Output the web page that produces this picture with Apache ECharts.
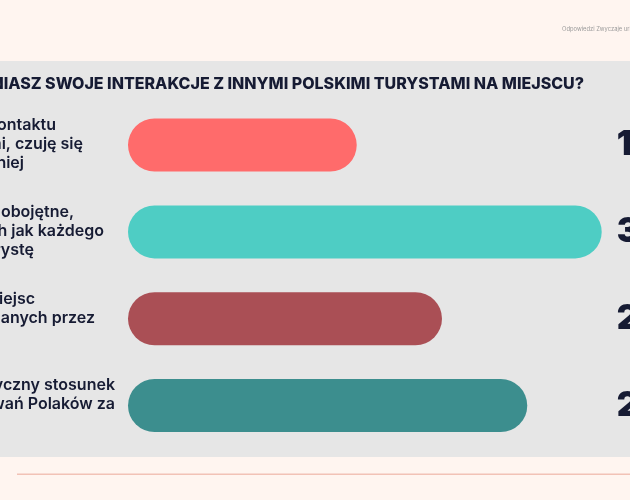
<!DOCTYPE html>
<html>
<head>
<meta charset="utf-8">
<script src="https://cdn.jsdelivr.net/npm/echarts@6/dist/echarts.min.js"></script>
<style>
html,body{margin:0;padding:0;background:#FFF5F0;}
#c{width:630px;height:500px;}
</style>
</head>
<body>
<div id="c"></div>
<script>
// Data
var categories = ['Unikam kontaktu', 'Są mi obojętne', 'Unikam miejsc', 'Krytyczny stosunek'];
var categoryLines = [
  ['Unikam kontaktu', 'z Polakami, czuję się', 'swobodniej'],
  ['Są mi obojętne,', 'traktuję ich jak każdego', 'innego turystę'],
  ['Unikam miejsc', 'często odwiedzanych przez', 'Polaków'],
  ['Mam krytyczny stosunek', 'do zachowań Polaków za', 'granicą']
];
var values = [16.9, 35, 23.2, 29.5];
var barColors = ['#FF6B6B', '#4ECDC4', '#AA4F55', '#3C8E8E'];
var titleText = 'JAK OCENIASZ SWOJE INTERAKCJE Z INNYMI POLSKIMI TURYSTAMI NA MIEJSCU?';
var sourceText = 'Odpowiedzi Zwyczaje urlopowe Polaków';

// visible right end of each label line (px)
var lineEnds = [[56, 83, 24], [74, 104, 34], [35, 95, -4], [115, 115, -4]];

var chart = echarts.init(document.getElementById('c'), null, {renderer: 'canvas'});
var option = {
  animation: false,
  backgroundColor: '#FFF5F0',
  grid: {left: 128, right: 28.3, top: 101.6, bottom: 51, containLabel: false, outerBoundsMode: 'none'},
  xAxis: {type: 'value', min: 0, max: 35, show: false},
  yAxis: [
    {type: 'category', data: categories, inverse: true, show: false},
    {type: 'category', data: categories, inverse: true, position: 'right',
     axisLine: {show: false}, axisTick: {show: false},
     axisLabel: {
       show: true, align: 'left', margin: 15,
       fontFamily: 'Inter', fontWeight: 900, fontSize: 34, color: '#161B33',
       formatter: function (v, i) { return String(values[i]).replace('.', ',') + '%'; }
     }}
  ],
  series: [{
    type: 'bar',
    yAxisIndex: 0,
    data: values.map(function (v, i) { return {value: v, itemStyle: {color: barColors[i]}}; }),
    barWidth: 53,
    itemStyle: {borderRadius: 26.5},
    z: 5
  }]
};
chart.setOption(option);

var graphics = [
  {type: 'rect', shape: {x: 0, y: 61, width: 630, height: 396}, style: {fill: '#E6E6E6'}, z: -10, silent: true},
  {type: 'rect', shape: {x: 17, y: 473.5, width: 613, height: 1.5}, style: {fill: '#F2C2B6'}, z: -10, silent: true},
  {type: 'text', x: 562, y: 29, style: {text: sourceText, fontFamily: 'Inter', fontSize: 5.8, fill: '#9A9A9A', textAlign: 'left', textVerticalAlign: 'middle'}, z: 10},
  {type: 'text', x: 584, y: 84, style: {text: titleText, fontFamily: 'Inter', fontWeight: 800, fontSize: 16, fill: '#161B33', textAlign: 'right', textVerticalAlign: 'middle'}, z: 10}
];
categories.forEach(function (c, i) {
  var cy = chart.convertToPixel({yAxisIndex: 0}, c);
  categoryLines[i].forEach(function (t, j) {
    graphics.push({type: 'text', x: lineEnds[i][j], y: cy + (j - 1) * 19 - 1,
      style: {text: t, fontFamily: 'Inter', fontWeight: 600, fontSize: 16, fill: '#161B33', textAlign: 'right', textVerticalAlign: 'middle'}, z: 10});
  });
});
chart.setOption({graphic: graphics});
</script>
</body>
</html>
